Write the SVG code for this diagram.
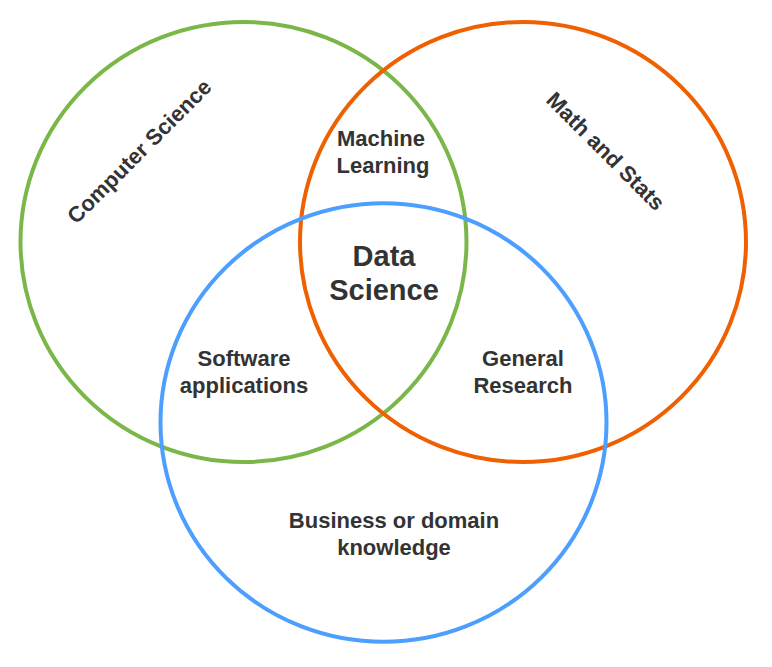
<svg xmlns="http://www.w3.org/2000/svg" width="772" height="667" viewBox="0 0 772 667">
<style>
.c{fill:none;stroke-width:4}
.t{font-family:"Liberation Sans",Arial,sans-serif;font-weight:bold;fill:#333333;font-size:22px;text-anchor:middle}
.big{font-size:29px}
</style>
<rect width="772" height="667" fill="#ffffff"/>
<g id="cs"><ellipse class="c" cx="243.5" cy="242" rx="223" ry="220" stroke="#7ab648"/></g>
<g id="ms"><ellipse class="c" cx="523" cy="242" rx="223" ry="220" stroke="#ee6000"/></g>
<g id="bd"><ellipse class="c" cx="383.5" cy="422.5" rx="223" ry="219.3" stroke="#4c9eff"/></g>
<g id="labels">
<text class="t" transform="translate(139,151) rotate(-45)" dy="8">Computer Science</text>
<text class="t" transform="translate(606,151) rotate(45)" dy="8">Math and Stats</text>
<text class="t" x="381" y="146">Machine</text>
<text class="t" x="383" y="173">Learning</text>
<text class="t big" x="384" y="266">Data</text>
<text class="t big" x="384" y="300">Science</text>
<text class="t" x="244" y="366">Software</text>
<text class="t" x="244" y="393">applications</text>
<text class="t" x="523" y="366">General</text>
<text class="t" x="523" y="393">Research</text>
<text class="t" x="394" y="528">Business or domain</text>
<text class="t" x="394" y="555">knowledge</text>
</g>
</svg>
